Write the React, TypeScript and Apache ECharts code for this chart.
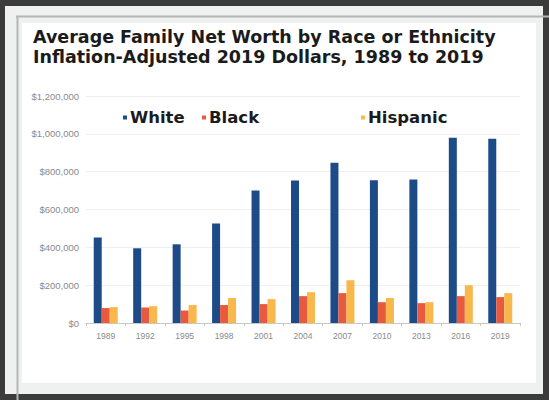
import React, { useEffect, useRef } from "react";
import * as echarts from "echarts";

const years = ["1989", "1992", "1995", "1998", "2001", "2004", "2007", "2010", "2013", "2016", "2019"];
const white = [452000, 395000, 416000, 526000, 700000, 753000, 847000, 755000, 758000, 979000, 974000];
const black = [79000, 82000, 66000, 95000, 100000, 142000, 158000, 110000, 105000, 142000, 137000];
const hispanic = [84000, 89000, 95000, 132000, 126000, 163000, 226000, 132000, 110000, 200000, 158000];
const seriesNames = ["White", "Black", "Hispanic"];
const colors = ["#1d4b87", "#e9593d", "#f8b84c"];

function fmtDollar(v: number) {
  return "$" + v.toLocaleString("en-US");
}

export default function App() {
  const ref = useRef<HTMLDivElement>(null);
  useEffect(() => {
    if (!ref.current) return;
    const chart = echarts.init(ref.current, null, { renderer: "svg" });
    const legendPos = [118, 197, 356];
    chart.setOption({
      animation: false,
      backgroundColor: "#3b3b3b",
      graphic: [
        { type: "rect", shape: { x: 5, y: 6, width: 538, height: 388 }, style: { fill: "#eff0f0" }, z: -10 },
        { type: "rect", shape: { x: 22, y: 23, width: 514, height: 360 }, style: { fill: "#ffffff" }, z: -9 },
        { type: "line", shape: { x1: 16, y1: 16.5, x2: 549, y2: 16.5 }, style: { stroke: "#b4b6b6", lineWidth: 2 }, z: -8 },
        { type: "line", shape: { x1: 17.5, y1: 16, x2: 17.5, y2: 400 }, style: { stroke: "#b4b6b6", lineWidth: 2 }, z: -8 },
      ],
      title: {
        text: "Average Family Net Worth by Race or Ethnicity\nInflation-Adjusted 2019 Dollars, 1989 to 2019",
        left: 28,
        top: 22,
        textStyle: {
          fontFamily: "DejaVu Sans",
          fontWeight: "bold",
          fontSize: 17.5,
          lineHeight: 20,
          color: "#1b1b1b",
        },
      },
      legend: seriesNames.map((n, i) => ({
        data: [n],
        left: legendPos[i],
        top: 104,
        icon: "rect",
        itemWidth: 4,
        itemHeight: 4,
        itemGap: 4,
        textStyle: {
          fontFamily: "DejaVu Sans",
          fontWeight: "bold",
          fontSize: 16.5,
          color: "#1b1b1b",
          padding: [0, 0, 0, -2],
        },
      })),
      grid: { left: 86, right: 29, top: 96, bottom: 77 },
      xAxis: {
        type: "category",
        data: years,
        axisLine: { lineStyle: { color: "#c8c8c8" } },
        axisTick: { show: true, length: 3, lineStyle: { color: "#c8c8c8" } },
        axisLabel: { fontFamily: "Liberation Sans", fontSize: 8.5, color: "#8a8a8a", margin: 8 },
      },
      yAxis: {
        type: "value",
        min: 0,
        max: 1200000,
        interval: 200000,
        axisLine: { show: false },
        axisTick: { show: false },
        splitLine: { lineStyle: { color: "#f0f0f0" } },
        axisLabel: {
          fontFamily: "Liberation Sans",
          fontSize: 9.5,
          color: "#8a8a8a",
          margin: 7,
          formatter: (v: number) => fmtDollar(v),
        },
      },
      series: [white, black, hispanic].map((d, i) => ({
        name: seriesNames[i],
        type: "bar",
        data: d,
        barWidth: 8,
        barGap: "0%",
        itemStyle: { color: colors[i] },
      })),
    });
    return () => chart.dispose();
  }, []);
  return (
    <div
      ref={ref}
      style={{ position: "fixed", left: 0, top: 0, width: 549, height: 400 }}
    />
  );
}
